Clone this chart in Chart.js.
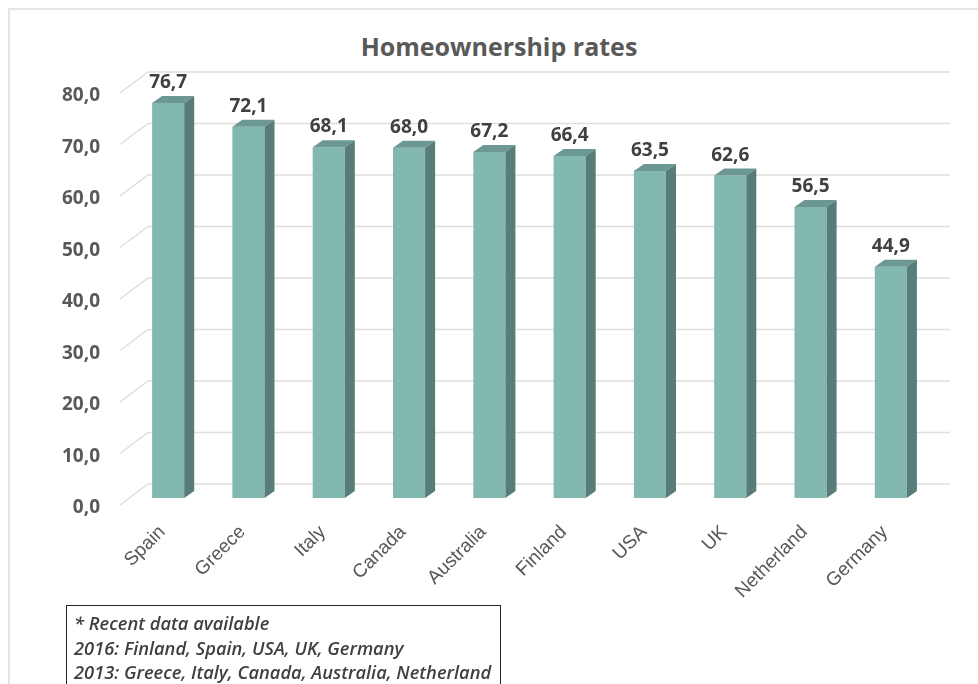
<!DOCTYPE html>
<html>
<head>
<meta charset="utf-8">
<script src="https://cdn.jsdelivr.net/npm/chart.js@4.4.1/dist/chart.umd.min.js"></script>
<style>
  html, body { margin: 0; padding: 0; background: #fff; }
  #wrap { position: relative; width: 978px; height: 684px; overflow: hidden; }
  #frame { position: absolute; left: 8px; top: 8px; width: 1000px; height: 720px;
           border-left: 2px solid #e4e4e4; border-top: 2px solid #e4e4e4; }
  #title { position: absolute; left: 0; top: 30px; width: 998px; text-align: center;
           font: bold 25px "Open Sans", sans-serif; color: #595959; line-height: 32px; }
  canvas { position: absolute; left: 0; top: 0; }
  #note { position: absolute; left: 66px; top: 605px; width: 426px; height: 76px;
          border: 1.5px solid #262626; padding: 5px 0 0 7px; box-sizing: content-box;
          font: italic 600 18.3px "Open Sans", sans-serif; color: #404040; line-height: 24.5px;
          white-space: nowrap; }
</style>
</head>
<body>
<div id="wrap">
  <div id="frame"></div>
  <div id="title">Homeownership rates</div>
  <canvas id="chart" width="978" height="684"></canvas>
  <div id="note">
    <div>* Recent data available</div>
    <div>2016: Finland, Spain, USA, UK, Germany</div>
    <div>2013: Greece, Italy, Canada, Australia, Netherland</div>
  </div>
</div>
<script>
const countries = ['Spain', 'Greece', 'Italy', 'Canada', 'Australia', 'Finland', 'USA', 'UK', 'Netherland', 'Germany'];
const rates = [76.7, 72.1, 68.1, 68.0, 67.2, 66.4, 63.5, 62.6, 56.5, 44.9];
const yTicks = [0, 10, 20, 30, 40, 50, 60, 70, 80];

const frontColor = '#82b8b0';
const sideColor = '#587d78';
const topColor = '#6b9892';
const depthX = 10, depthY = 7;

const fmt = v => v.toFixed(1).replace('.', ',');

// 3D look: back gridlines, bar sides/tops, labels
const bar3d = {
    id: 'bar3d',
    beforeDatasetsDraw(chart) {
        const ctx = chart.ctx;
        const y = chart.scales.y;
        ctx.save();
        ctx.strokeStyle = '#dedede';
        ctx.lineWidth = 1.5;
        yTicks.forEach(v => {
            const p = y.getPixelForValue(v);
            ctx.beginPath();
            ctx.moveTo(120, p + 7);
            ctx.lineTo(148, p - 14);
            ctx.lineTo(950, p - 14);
            ctx.stroke();
        });
        ctx.restore();
    },
    afterDatasetsDraw(chart) {
        const ctx = chart.ctx;
        const meta = chart.getDatasetMeta(0);
        ctx.save();
        meta.data.forEach((bar, i) => {
            const x0 = bar.x - bar.width / 2;
            const x1 = bar.x + bar.width / 2;
            const top = bar.y;
            const base = bar.base;
            // top face
            ctx.fillStyle = topColor;
            ctx.beginPath();
            ctx.moveTo(x0, top);
            ctx.lineTo(x1, top);
            ctx.lineTo(x1 + depthX, top - depthY);
            ctx.lineTo(x0 + depthX, top - depthY);
            ctx.closePath();
            ctx.fill();
            // side face
            ctx.fillStyle = sideColor;
            ctx.beginPath();
            ctx.moveTo(x1, top);
            ctx.lineTo(x1 + depthX, top - depthY);
            ctx.lineTo(x1 + depthX, base - depthY);
            ctx.lineTo(x1, base);
            ctx.closePath();
            ctx.fill();
            // value label
            ctx.fillStyle = '#404040';
            ctx.font = 'bold 19px "Open Sans", sans-serif';
            ctx.textAlign = 'center';
            ctx.textBaseline = 'alphabetic';
            ctx.fillText(fmt(rates[i]), bar.x, top - depthY - 8);
        });
        ctx.restore();
    },
    afterDraw(chart) {
        const ctx = chart.ctx;
        const y = chart.scales.y;
        ctx.save();
        ctx.fillStyle = '#595959';
        ctx.font = 'bold 19px "Open Sans", sans-serif';
        ctx.textAlign = 'right';
        ctx.textBaseline = 'middle';
        yTicks.forEach(v => {
            ctx.fillText(fmt(v), 100, y.getPixelForValue(v) + 10);
        });
        ctx.restore();
    }
};

new Chart(document.getElementById('chart'), {
    type: 'bar',
    data: {
        labels: countries,
        datasets: [{
            data: rates,
            backgroundColor: frontColor,
            borderWidth: 0,
            barPercentage: 0.8,
            categoryPercentage: 0.5
        }]
    },
    options: {
        responsive: false,
        animation: false,
        devicePixelRatio: 1,
        layout: { padding: { left: 128, right: 47, top: 86, bottom: 0 } },
        plugins: { legend: { display: false }, title: { display: false }, tooltip: { enabled: false } },
        scales: {
            y: { display: false, min: 0, max: 80 },
            x: {
                grid: { display: false },
                border: { display: false },
                afterFit: s => { s.height = 186; },
                ticks: {
                    color: '#575757',
                    font: { family: '"Liberation Sans", Arial, sans-serif', size: 19 },
                    maxRotation: 45,
                    minRotation: 45,
                    padding: 15,
                    labelOffset: -6
                }
            }
        }
    },
    plugins: [bar3d]
});
</script>
</body>
</html>
